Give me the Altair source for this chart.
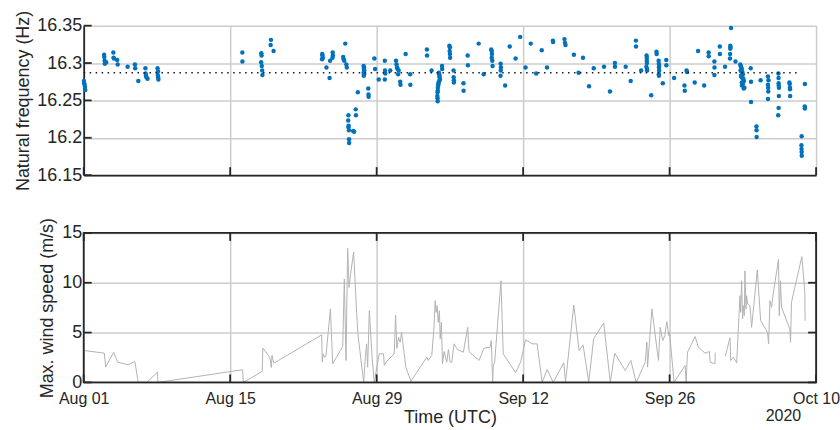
import altair as alt
import numpy as np
import pandas as pd

# Time axis origin: all elapsed times below are days since this instant (UTC)
ORIGIN = pd.Timestamp("2020-08-01 00:00:00")

# Identified natural frequency of the structure
freq_day = [
    0.02, 0.05, 0.08, 0.12, 0.15,
    1.95, 1.97, 2.00, 2.02, 2.15,
    2.83, 2.85, 2.90,
    3.20, 3.25,
    4.20,
    4.90, 4.92,
    5.22,
    5.90, 5.92, 5.95, 6.00, 6.10,
    7.06, 7.10, 7.08, 7.12, 7.14,
    15.16, 15.17,
    16.98, 17.00, 16.96, 17.02, 17.06, 17.08,
    17.90, 17.87, 18.15,
    22.80, 22.82, 22.85, 22.78,
    23.20, 23.50, 23.55,
    23.80, 23.82, 23.78,
    24.80, 24.85, 24.90, 25.10, 25.15, 25.00,
    25.30, 25.28, 25.32, 25.30, 25.35, 25.36, 25.37,
    25.75, 25.85,
    26.00, 26.02,
    26.20,
    26.75, 26.80, 26.78, 26.82, 26.76, 26.80, 26.77,
    27.20, 27.22, 27.23,
    27.78, 27.85,
    28.20,
    28.78, 28.80, 28.82, 28.78,
    29.30,
    29.85, 29.90, 29.95, 30.00, 30.10, 30.05, 30.25, 30.28,
    30.77,
    31.20, 31.22,
    32.80, 32.82,
    33.25,
    33.95, 33.97, 34.00, 34.02, 34.05, 33.98, 33.92, 33.90, 33.88, 33.85,
    33.84, 33.82, 33.80, 33.82, 33.83,
    34.25, 34.26,
    34.95, 35.00, 34.98, 35.00, 35.02,
    35.35, 35.36, 35.38, 35.38,
    36.30, 36.31,
    36.70, 36.72,
    37.75,
    38.23,
    38.95, 39.00, 39.02, 39.00, 39.05, 39.08,
    39.85, 39.88, 39.86, 39.84,
    40.28,
    40.72,
    41.28,
    41.72,
    42.23,
    42.73,
    43.25,
    43.78,
    44.28,
    44.85, 44.86,
    45.95, 46.00, 46.05,
    46.85,
    47.30,
    47.72,
    48.30,
    48.75,
    49.73,
    50.30,
    50.77, 50.78,
    51.80,
    52.28,
    52.78, 52.79,
    53.28,
    53.80, 53.82, 53.82, 53.83, 53.78, 53.84, 53.85,
    54.24,
    54.75, 54.76,
    54.95, 54.97, 55.00, 54.98, 55.00, 54.97, 54.98,
    55.35,
    55.68, 55.69,
    56.43,
    57.42, 57.45,
    57.62, 57.66,
    58.40,
    58.72,
    59.30,
    59.73, 59.74,
    60.28, 60.29, 60.28,
    60.80, 60.81,
    61.30,
    61.87, 61.80, 61.82, 61.80, 61.78, 61.77,
    62.30,
    62.75, 62.80, 62.85, 62.90, 62.78, 62.95, 63.00, 62.82, 62.88, 63.05,
    63.10, 62.90, 63.00, 62.92, 63.15, 63.08, 62.98, 62.86,
    63.75, 63.78, 63.78,
    64.30, 64.31, 64.32,
    64.70,
    65.40, 65.45, 65.40, 65.42, 65.43, 65.40,
    66.40, 66.41, 66.42, 66.43, 66.45, 66.44, 66.42, 66.38,
    67.45, 67.48, 67.50, 67.51, 67.52,
    68.62, 68.60, 68.61, 68.62, 68.63,
    68.93, 68.92, 68.93,
]
freq_hz = [
    16.276, 16.273, 16.271, 16.268, 16.264,
    16.311, 16.308, 16.303, 16.299, 16.301,
    16.314, 16.307, 16.306,
    16.304, 16.298,
    16.295,
    16.298, 16.293,
    16.276,
    16.293, 16.286, 16.283, 16.281, 16.279,
    16.293, 16.289, 16.284, 16.281, 16.278,
    16.314, 16.302,
    16.313, 16.310, 16.301, 16.296, 16.290, 16.284,
    16.331, 16.324, 16.316,
    16.312, 16.310, 16.307, 16.305,
    16.294, 16.280, 16.303,
    16.314, 16.310, 16.307,
    16.308, 16.305, 16.303, 16.298, 16.294, 16.326,
    16.230, 16.223, 16.216, 16.214, 16.210, 16.198, 16.193,
    16.209, 16.208,
    16.238, 16.230,
    16.261,
    16.296, 16.294, 16.292, 16.290, 16.287, 16.285, 16.283,
    16.266, 16.258, 16.255,
    16.306, 16.292,
    16.278,
    16.303, 16.290, 16.286, 16.278,
    16.290,
    16.303, 16.298, 16.294, 16.292, 16.290, 16.285, 16.275, 16.271,
    16.312,
    16.285, 16.271,
    16.318, 16.310,
    16.290,
    16.287, 16.285, 16.283, 16.281, 16.278, 16.276, 16.274, 16.272, 16.270, 16.267,
    16.263, 16.261, 16.256, 16.253, 16.249,
    16.296, 16.292,
    16.323, 16.321, 16.316, 16.312, 16.307,
    16.290, 16.281, 16.277, 16.274,
    16.273, 16.263,
    16.310, 16.297,
    16.326,
    16.285,
    16.318, 16.316, 16.312, 16.307, 16.303, 16.296,
    16.299, 16.294, 16.290, 16.283,
    16.270,
    16.322,
    16.306,
    16.335,
    16.294,
    16.326,
    16.286,
    16.317,
    16.294,
    16.330, 16.328,
    16.332, 16.327, 16.324,
    16.311,
    16.287,
    16.307,
    16.269,
    16.293,
    16.295,
    16.262,
    16.300, 16.295,
    16.295,
    16.276,
    16.330, 16.322,
    16.290,
    16.310, 16.307, 16.303, 16.300, 16.295, 16.292, 16.290,
    16.257,
    16.315, 16.312,
    16.303, 16.299, 16.296, 16.294, 16.290, 16.285, 16.283,
    16.273,
    16.304, 16.297,
    16.280,
    16.270, 16.263,
    16.290, 16.288,
    16.274,
    16.316,
    16.270,
    16.314, 16.309,
    16.302, 16.294, 16.284,
    16.322, 16.312,
    16.295,
    16.347, 16.323, 16.321, 16.319, 16.312, 16.306,
    16.302,
    16.298, 16.296, 16.294, 16.292, 16.290, 16.288, 16.285, 16.283, 16.281, 16.279,
    16.276, 16.274, 16.272, 16.270, 16.267, 16.266, 16.280, 16.289,
    16.293, 16.275, 16.248,
    16.215, 16.210, 16.201,
    16.277,
    16.282, 16.277, 16.271, 16.267, 16.262, 16.252,
    16.286, 16.280, 16.273, 16.270, 16.267, 16.256, 16.240, 16.230,
    16.274, 16.272, 16.267, 16.265, 16.256,
    16.202, 16.190, 16.185, 16.181, 16.176,
    16.272, 16.242, 16.239,
]

# Mean frequency, drawn as a dotted reference level over the monitored span
mean_hz = 16.287
mean_span_day = [0.0, 68.4]

# Maximum wind speed (m/s); None marks a gap in the wind record
wind_day = [
    0.00, 0.06, 1.97, 2.10, 2.86, 3.24, 4.26, 4.89, 5.21, 6.04,
    7.05, 7.09, 15.19, 15.25, 17.06, 17.12, 17.80, 17.93, 18.00, 18.17,
    22.75, 22.80, 22.90, 23.00, 23.15, 23.58, 23.80, 24.76, 24.91, 25.07,
    25.23, 25.36, 25.49, 25.80, 25.99, 26.19, 26.76, 26.92, 27.04, 27.14,
    27.30, 27.55, 27.77, 27.93, 28.25, 28.66, 28.73, 28.89, 29.68, 29.81,
    29.93, 30.09, 30.25, 30.38, 30.79, 31.27, 32.79, 32.92, 33.27, 33.49,
    33.59, 33.68, 33.78, 33.88, 34.00, 34.07, 34.19, 34.29, 34.45, 34.70,
    34.86, 35.02, 35.18, 35.40, 35.72, 36.29, 36.70, 36.83, 37.78, 38.26,
    38.83, 38.96, 39.09, 39.15, 39.28, 39.88, 40.10, 41.28, 41.76, 42.23,
    42.87, 43.34, 43.82, 44.30, 44.87, 45.89, 46.05, 46.84, 47.35, 47.73,
    48.27, 48.74, 49.70, 50.33, 50.75, 51.76, 52.30, 52.81, 53.67, 53.83,
    53.89, 54.31, 54.85, 54.94, 55.10, 55.35, 55.54, 55.73, 55.93, 55.99,
    56.43, 57.48, 57.58, 57.71, 58.44, 58.75, 59.39, 59.80, 59.87, 60.34,
    60.36, 60.80, 61.33, 61.77, 61.84, 62.09, 62.41, 62.63, 62.73, 62.79,
    62.88, 62.98, 63.04, 63.14, 63.20, 63.30, 63.36, 63.46, 63.68, 63.84,
    64.38, 64.70, 65.36, 65.46, 65.59, 65.74, 65.90, 66.41, 66.48, 66.60,
    66.70, 67.49, 67.56, 67.65, 68.64, 68.92, 68.95,
]
wind_ms = [
    0.00, 3.20, 2.93, 1.53, 3.03, 2.03, 1.77, 2.10, 0.00, 0.00,
    1.03, 0.00, 1.27, 0.00, 1.10, 3.45, 2.50, 1.50, 2.70, 1.93,
    4.77, 2.03, 2.87, 2.53, 2.63, 7.37, 1.87, 3.63, 10.37, 2.20,
    13.43, 9.53, 10.70, 13.10, 9.03, 5.03, 0.00, 2.53, 3.87, 1.53,
    7.20, 2.70, 0.00, 1.03, 2.87, 2.87, 1.70, 2.03, 2.87, 6.77,
    3.43, 4.53, 4.03, 5.03, 1.53, 0.10, 2.53, 2.20, 2.70, 5.70,
    8.20, 7.03, 7.70, 6.03, 7.20, 4.37, 6.03, 1.87, 3.10, 2.03,
    3.30, 2.03, 2.03, 3.87, 3.30, 3.03, 5.53, 3.10, 2.20, 3.43,
    3.53, 4.20, 0.00, 1.70, 2.03, 10.20, 2.87, 0.97, 2.03, 4.27,
    3.87, 3.87, 0.00, 1.30, 0.00, 1.97, 0.00, 7.77, 3.20, 3.77,
    0.00, 4.37, 5.97, 0.00, 2.93, 1.20, 2.20, 0.00, 2.03, 4.03,
    1.53, 7.37, 2.87, 2.20, 5.53, 4.20, 4.70, 6.10, 4.70, 5.03,
    0.00, 1.70, 0.00, 3.03, 4.60, 3.53, 2.93, 3.10, 2.03, 1.87,
    3.00, None, 2.63, 4.47, 2.20, 2.53, 1.97, 6.70, 8.70, 7.03,
    10.20, 6.37, 7.70, 6.70, 11.20, 7.37, 8.70, 7.87, 7.70, 5.53,
    11.30, 6.20, 5.03, 3.87, 8.20, 7.53, 8.87, 12.37, 6.70, 10.20,
    7.53, 5.37, 4.03, 8.03, 12.63, 9.10, 6.20,
]

# Axis ticks
date_ticks = ["2020-08-01", "2020-08-15", "2020-08-29", "2020-09-12", "2020-09-26", "2020-10-10"]
hz_ticks = [16.15, 16.2, 16.25, 16.3, 16.35]
ms_ticks = [0, 5, 10, 15]
year_label = "2020"

assert len(freq_day) == len(freq_hz)
assert len(wind_day) == len(wind_ms)


def to_time(days):
    t = ORIGIN + pd.to_timedelta(np.asarray(days, dtype=float), unit="D")
    return t.round("s")


freq = pd.DataFrame({"time": to_time(freq_day), "hz": freq_hz})

mean_df = pd.DataFrame({
    "time": to_time([mean_span_day[0]]),
    "time2": to_time([mean_span_day[1]]),
    "hz": [mean_hz],
})

ws = np.array(wind_ms, dtype=float)
wind = pd.DataFrame({"time": to_time(wind_day), "ms": ws, "seg": np.cumsum(np.isnan(ws))})
wind = wind.dropna().reset_index(drop=True)

tick_ts = pd.to_datetime(date_ticks)
xticks_df = pd.DataFrame({"time": tick_ts})
hzticks_df = pd.DataFrame({"hz": hz_ticks})
msticks_df = pd.DataFrame({"ms": ms_ticks})
year_df = pd.DataFrame({"time": [tick_ts[-1]], "label": [year_label]})
frame_df = pd.DataFrame({"k": [0]})

# Styling
FONT = "Liberation Sans"
INK = "#262626"
GRID = "#CCCCCC"
BLUE = "#0072BD"
WIND = "#B3B3B3"
W, H = 735, 150
TICK = 8
LINE_W = 1.8

x_vals = [alt.DateTime(year=int(d.year), month=int(d.month), date=int(d.day)) for d in tick_ts]
x_scale = alt.Scale(domain=[x_vals[0], x_vals[-1]])
hz_scale = alt.Scale(domain=[hz_ticks[0], hz_ticks[-1]], nice=False, zero=False)
ms_scale = alt.Scale(domain=[ms_ticks[0], ms_ticks[-1]], nice=False)

# ---------- upper panel: natural frequency ----------
# every layer of a panel carries the same axis definitions so that they merge cleanly
top_x = alt.X("time:T", scale=x_scale, axis=alt.Axis(
    values=x_vals, labels=False, title=None, ticks=False,
    domainColor=INK, domainWidth=LINE_W))
top_y = alt.Y("hz:Q", scale=hz_scale, axis=alt.Axis(
    values=hz_ticks, format="~g", title="Natural frequency (Hz)",
    ticks=False, domainColor=INK, domainWidth=LINE_W, labelOverlap=False,
    labelFontSize=18, labelPadding=2, titlePadding=4))

points = alt.Chart(freq).mark_circle(size=20, color=BLUE, opacity=1).encode(x=top_x, y=top_y)

mean_line = alt.Chart(mean_df).mark_rule(
    color="#1A1A1A", strokeWidth=1.4, strokeDash=[1.5, 4.5]
).encode(x=top_x, x2="time2:T", y=top_y)

top_xt = alt.Chart(xticks_df).mark_rule(color=INK, strokeWidth=LINE_W).encode(
    x=top_x, y=alt.value(H), y2=alt.value(H - TICK))
top_yt = alt.Chart(hzticks_df).mark_rule(color=INK, strokeWidth=LINE_W).encode(
    y=top_y, x=alt.value(0), x2=alt.value(TICK))

top = alt.layer(points, mean_line, top_xt, top_yt).properties(width=W, height=H)

# ---------- lower panel: maximum wind speed ----------
bot_x = alt.X("time:T", scale=x_scale, axis=alt.Axis(
    values=x_vals, format="%b %d", title="Time (UTC)", ticks=False, domain=False,
    labelFlush=False, labelOverlap=False, labelPadding=8, titlePadding=2))
bot_y = alt.Y("ms:Q", scale=ms_scale, axis=alt.Axis(
    values=ms_ticks, title="Max. wind speed (m/s)", ticks=False, domain=False,
    labelOverlap=False, labelFontSize=18, labelPadding=2, titlePadding=5))

wind_line = alt.Chart(wind).mark_line(color=WIND, strokeWidth=1).encode(
    x=bot_x, y=bot_y, detail="seg:N")

frame = alt.Chart(frame_df).mark_rect(filled=False, stroke=INK, strokeWidth=LINE_W).encode(
    x=alt.value(0), x2=alt.value(W), y=alt.value(0), y2=alt.value(H))

bot_xt_low = alt.Chart(xticks_df).mark_rule(color=INK, strokeWidth=LINE_W).encode(
    x=bot_x, y=alt.value(H), y2=alt.value(H - TICK))
bot_xt_high = alt.Chart(xticks_df).mark_rule(color=INK, strokeWidth=LINE_W).encode(
    x=bot_x, y=alt.value(0), y2=alt.value(TICK))
bot_yt_left = alt.Chart(msticks_df).mark_rule(color=INK, strokeWidth=LINE_W).encode(
    y=bot_y, x=alt.value(0), x2=alt.value(TICK))
bot_yt_right = alt.Chart(msticks_df).mark_rule(color=INK, strokeWidth=LINE_W).encode(
    y=bot_y, x=alt.value(W - TICK), x2=alt.value(W))

year_text = alt.Chart(year_df).mark_text(
    font=FONT, fontSize=16, color=INK, align="right", baseline="middle", dx=-15
).encode(x=bot_x, y=alt.value(H + 34), text="label:N")

bottom = alt.layer(
    wind_line, bot_xt_low, bot_xt_high, bot_yt_left, bot_yt_right, frame, year_text
).properties(width=W, height=H)

chart = (
    alt.vconcat(top, bottom, spacing=26)
    .properties(padding={"left": 14, "top": 9, "right": 0, "bottom": 0})
    .configure_view(stroke=None)
    .configure_axis(
        labelFont=FONT, labelFontSize=16, labelColor=INK, labelOverlap=False,
        titleFont=FONT, titleFontSize=18, titleFontWeight="normal", titleColor=INK,
        gridColor=GRID, gridWidth=1.5, grid=True,
    )
)

chart.save("out.html", embed_options={"renderer": "svg", "actions": False})
